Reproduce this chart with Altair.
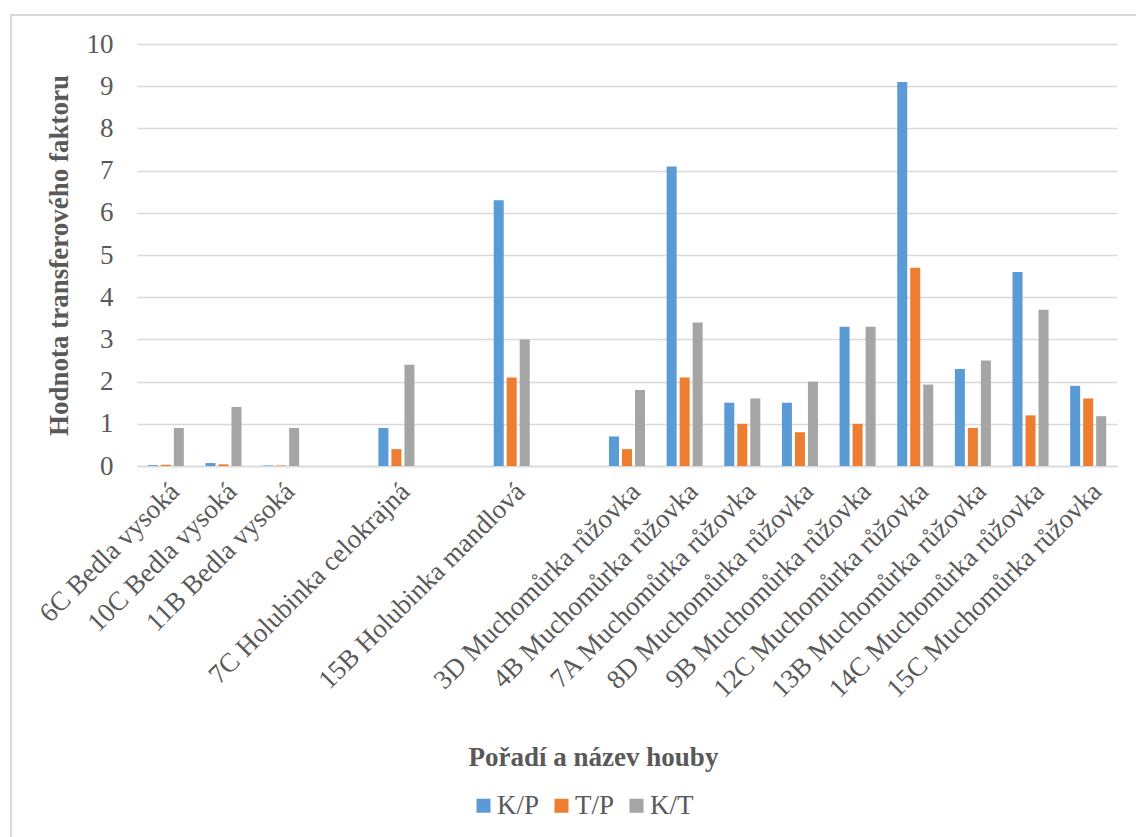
import altair as alt
import pandas as pd

# Mushroom samples (in axis order) and the three transfer-factor ratios
samples = [
    "6C Bedla vysoká",
    "10C Bedla vysoká",
    "11B Bedla vysoká",
    "7C Holubinka celokrajná",
    "15B Holubinka mandlová",
    "3D Muchomůrka růžovka",
    "4B Muchomůrka růžovka",
    "7A Muchomůrka růžovka",
    "8D Muchomůrka růžovka",
    "9B Muchomůrka růžovka",
    "12C Muchomůrka růžovka",
    "13B Muchomůrka růžovka",
    "14C Muchomůrka růžovka",
    "15C Muchomůrka růžovka",
]
kp = [0.02, 0.07, 0.01, 0.9, 6.3, 0.7, 7.1, 1.5, 1.5, 3.3, 9.1, 2.3, 4.6, 1.9]
tp = [0.03, 0.04, 0.01, 0.4, 2.1, 0.4, 2.1, 1.0, 0.8, 1.0, 4.7, 0.9, 1.2, 1.6]
kt = [0.9, 1.4, 0.9, 2.4, 3.0, 1.8, 3.4, 1.6, 2.0, 3.3, 1.93, 2.5, 3.7, 1.18]

series = ["K/P", "T/P", "K/T"]
colors = ["#5B9BD5", "#ED7D31", "#A5A5A5"]

# Category axis with empty slots separating the species
axis_order = (
    samples[0:3] + [" "] + samples[3:4] + ["  "] + samples[4:5] + ["   "] + samples[5:]
)

rows = []
for name, a, b, c in zip(samples, kp, tp, kt):
    for s, v in zip(series, (a, b, c)):
        rows.append({"houba": name, "pomer": s, "hodnota": v})
df = pd.DataFrame(rows)

FONT = "Liberation Serif"
SIZE = 27
TEXT = "#595959"
GRID = "#D9D9D9"

bars = alt.Chart(df).mark_bar().encode(
    x=alt.X(
        "houba:N",
        sort=axis_order,
        scale=alt.Scale(domain=axis_order, paddingInner=0.323, paddingOuter=0.1615),
        axis=alt.Axis(
            title="Pořadí a název houby",
            labelAngle=315,
            labelFont=FONT,
            labelFontSize=SIZE,
            labelColor=TEXT,
            labelPadding=12,
            labelLimit=500,
            ticks=False,
            domainColor=GRID,
            domainWidth=1.5,
            titleFont=FONT,
            titleFontSize=SIZE,
            titleFontWeight="bold",
            titleColor=TEXT,
            titleX=456,
            titleY=291,
            titleAlign="center",
            titleBaseline="middle",
        ),
    ),
    xOffset=alt.XOffset(
        "pomer:N",
        sort=series,
        scale=alt.Scale(domain=series, paddingInner=0.23, paddingOuter=0.115),
    ),
    y=alt.Y(
        "hodnota:Q",
        scale=alt.Scale(domain=[0, 10], nice=False),
        axis=alt.Axis(
            title="Hodnota transferového faktoru",
            values=list(range(0, 11)),
            labelFont=FONT,
            labelFontSize=SIZE,
            labelColor=TEXT,
            labelPadding=24,
            ticks=False,
            domain=False,
            gridColor=GRID,
            gridWidth=1.4,
            titleFont=FONT,
            titleFontSize=SIZE,
            titleFontWeight="bold",
            titleColor=TEXT,
            titleAngle=270,
            titleX=-78,
            titleY=211,
            titleAlign="center",
            titleBaseline="middle",
        ),
    ),
    color=alt.Color(
        "pomer:N",
        sort=series,
        scale=alt.Scale(domain=series, range=colors),
        legend=alt.Legend(
            title=None,
            orient="none",
            direction="horizontal",
            legendX=333,
            legendY=748,
            symbolType="square",
            symbolSize=196,
            symbolStrokeWidth=0,
            symbolOpacity=1,
            labelFont=FONT,
            labelFontSize=SIZE,
            labelColor=TEXT,
            labelOffset=0,
            columnPadding=8,
            padding=0,
        ),
    ),
)

# Light frame around the chart area
frame = alt.Chart(pd.DataFrame({"k": [0]})).mark_rect(
    fill="transparent", stroke=GRID, strokeWidth=2
).encode(
    x=alt.value(-126),
    x2=alt.value(1010),
    y=alt.value(-29),
    y2=alt.value(800),
)

chart = (
    alt.layer(frame, bars)
    .properties(
        width=980,
        height=422,
        autosize=alt.AutoSizeParams(type="none"),
        padding={"left": 137, "top": 44, "right": 19, "bottom": 371},
        background="white",
    )
    .configure_view(stroke=None)
)

chart.save("out.html", embed_options={"renderer": "svg", "actions": False})
